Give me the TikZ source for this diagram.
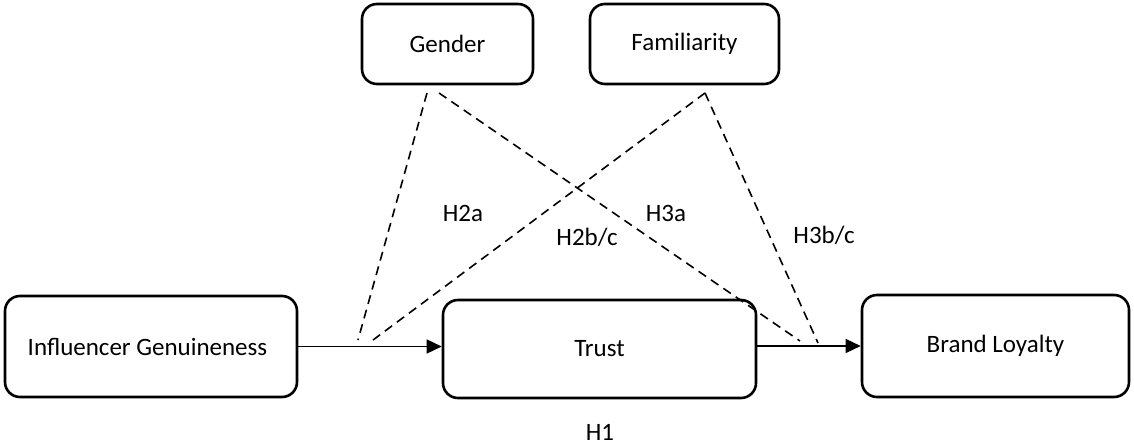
\documentclass[tikz,border=0pt]{standalone}
\usepackage{fontspec}
\setmainfont{Carlito}
\usetikzlibrary{arrows.meta}
\begin{document}
\begin{tikzpicture}[x=1pt,y=-1pt,
  box/.style={draw, line width=2.6pt, rounded corners=15pt, inner sep=0pt, font=\fontsize{25}{29}\selectfont},
  lbl/.style={inner sep=0pt, font=\fontsize{25}{29}\selectfont},
  link/.style={line width=1.4pt, -{Triangle[length=15pt,width=14pt]}},
  hyp/.style={line width=1.6pt, dash pattern=on 9pt off 6pt}]
\useasboundingbox (0,0) rectangle (1134,446);
\node[box, minimum width=292pt, minimum height=101pt] (ig) at (151,346.5) {\hspace*{-7pt}Influencer Genuineness};
\node[box, minimum width=313pt, minimum height=98pt] (tr) at (599.5,349) {Trust};
\node[box, minimum width=267pt, minimum height=102pt] (bl) at (995.5,346) {Brand Loyalty};
\node[box, minimum width=171pt, minimum height=80pt] (ge) at (447.5,44) {Gender};
\node[box, minimum width=189pt, minimum height=80pt] (fa) at (684.5,44) {Familiarity};
\draw[link] (ig.east) -- (ig.east -| tr.west);
\draw[link] (tr.east |- bl.west) -- (bl.west);
\coordinate (g1) at (427,93);
\coordinate (g2) at (439,93);
\coordinate (f1) at (705,93);
\coordinate (ea) at (358,340);
\coordinate (eb) at (373,340);
\coordinate (ec) at (800,341);
\coordinate (ed) at (818,343);
\draw[hyp] (g1) -- (ea);
\draw[hyp] (g2) -- (ec);
\draw[hyp] (f1) -- (eb);
\draw[hyp] (f1) -- (ed);
\node[lbl] (h2a) at (463,213) {H2a};
\node[lbl] (h3a) at (666,213) {H3a};
\node[lbl] (h2b) at (587,237) {H2b/c};
\node[lbl] (h3b) at (824,235) {H3b/c};
\node[lbl] (h1) at (600,432) {H1};
\end{tikzpicture}
\end{document}
